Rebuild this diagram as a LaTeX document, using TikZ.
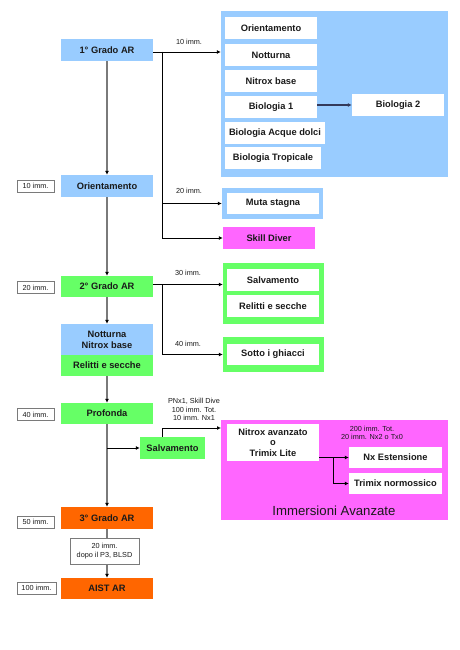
\documentclass[tikz,border=0pt]{standalone}
\usepackage{fontspec}
\setmainfont{Liberation Sans}
\usetikzlibrary{arrows.meta}
\definecolor{cblue}{HTML}{99CCFF}
\definecolor{cgreen}{HTML}{66FF66}
\definecolor{cmag}{HTML}{FF66FF}
\definecolor{corange}{HTML}{FF6600}
\definecolor{ctext}{HTML}{1A1A1A}
\definecolor{cline}{HTML}{7A7A7A}
\definecolor{cbio}{HTML}{33395A}
\tikzset{
  box/.style={rectangle, inner sep=0pt, minimum width=92pt, minimum height=22pt,
    font=\bfseries\fontsize{9.3}{11}\selectfont, align=center, text=ctext},
  wbox/.style={box, fill=white},
  lbl/.style={inner sep=0pt, font=\fontsize{7.3}{8.6}\selectfont, align=center, text=ctext},
  tagbox/.style={lbl, draw=cline, line width=0.9pt, minimum width=37pt, minimum height=12pt},
  container/.style={rectangle, inner sep=0pt},
  mainline/.style={draw=cline, line width=1.3pt},
  mainarrow/.style={mainline, -{Latex[length=4pt,width=4pt,color=black]}},
  side/.style={draw=black, line width=0.8pt, -{Latex[length=4pt,width=4pt]}},
  sideplain/.style={draw=black, line width=0.8pt},
}
\begin{document}
\begin{tikzpicture}[x=1pt,y=-1pt]
\useasboundingbox[fill=white] (0,0) rectangle (459,650);

% ---------- containers ----------
\node[container, fill=cblue, minimum width=227pt, minimum height=166pt] (bluec) at (334.5,94) {};
\node[container, fill=cblue, minimum width=101pt, minimum height=31pt] (mutac) at (272.5,203.5) {};
\node[container, fill=cgreen, minimum width=101pt, minimum height=61pt] (gf1) at (273.5,293.5) {};
\node[container, fill=cgreen, minimum width=101pt, minimum height=35pt] (gf2) at (273.5,354.5) {};
\node[container, fill=cmag, minimum width=227pt, minimum height=100pt] (mag) at (334.5,470) {};

% ---------- main column ----------
\node[box, fill=cblue] (g1) at (107,50) {1° Grado AR};
\node[box, fill=cblue] (ori) at (107,186) {Orientamento};
\node[box, fill=cgreen, minimum height=21pt] (g2) at (107,286.5) {2° Grado AR};
\node[box, fill=cblue, minimum height=31pt] (nn) at (107,339.5) {Notturna\\Nitrox base};
\node[box, fill=cgreen, minimum height=21pt] (rs) at (107,365.5) {Relitti e secche};
\node[box, fill=cgreen, minimum height=21pt] (prof) at (107,413.5) {Profonda};
\node[box, fill=corange] (g3) at (107,518) {3° Grado AR};
\node[box, fill=corange, minimum height=21pt] (aist) at (107,588.5) {AIST AR};
\node[lbl, draw=cline, line width=0.9pt, fill=white, minimum width=69pt, minimum height=26pt] (betw) at (104.5,551) {20 imm.\\dopo il P3, BLSD};

% ---------- left tags ----------
\node[tagbox] (t10) at (35.5,186) {10 imm.};
\node[tagbox] (t20) at (35.5,287.5) {20 imm.};
\node[tagbox] (t40) at (35.5,414.5) {40 imm.};
\node[tagbox] (t50) at (35.5,522) {50 imm.};
\node[tagbox, minimum width=39pt] (t100) at (36.5,588) {100 imm.};

% ---------- blue group ----------
\node[wbox] (o1) at (271,28) {Orientamento};
\node[wbox] (o2) at (271,55) {Notturna};
\node[wbox] (o3) at (271,81) {Nitrox base};
\node[wbox] (o4) at (271,107) {Biologia 1};
\node[wbox, minimum width=100pt] (o5) at (275,133) {Biologia Acque dolci};
\node[wbox, minimum width=96pt] (o6) at (273,158) {Biologia Tropicale};
\node[wbox] (bio2) at (398,105) {Biologia 2};
\node[wbox, minimum height=21pt] (muta) at (273,203.5) {Muta stagna};
\node[box, fill=cmag] (skill) at (269,238) {Skill Diver};

% ---------- green groups ----------
\node[wbox] (salv1) at (273,280) {Salvamento};
\node[wbox] (reli) at (273,306) {Relitti e secche};
\node[wbox, minimum height=21pt] (ghi) at (273,354.5) {Sotto i ghiacci};

% ---------- advanced ----------
\node[box, fill=cgreen, minimum width=65pt] (salv) at (172.5,448) {Salvamento};
\node[wbox, minimum height=37pt, font=\bfseries\fontsize{9.3}{10.2}\selectfont] (nitrox) at (273,442.5) {Nitrox avanzato\\o\\Trimix Lite};
\node[wbox, minimum width=93pt, minimum height=21pt] (nxe) at (395.5,457.5) {Nx Estensione};
\node[wbox, minimum width=93pt, minimum height=21pt] (trim) at (395.5,483.5) {Trimix normossico};
\node[inner sep=0pt, font=\fontsize{13.2}{14}\selectfont, text=ctext] (imm) at (334,511) {Immersioni Avanzate};

% ---------- labels ----------
\node[lbl] (l10) at (189,42) {10 imm.};
\node[lbl] (l20) at (189,191) {20 imm.};
\node[lbl] (l30) at (188,273) {30 imm.};
\node[lbl] (l40) at (188,344) {40 imm.};
\node[lbl] (lpn) at (194,409.5) {PNx1, Skill Dive\\100 imm. Tot.\\10 imm. Nx1};
\node[lbl] (l200) at (372,433) {200 imm. Tot.\\20 imm. Nx2 o Tx0};

% ---------- coordinates ----------
\coordinate (b1) at (162,52);
\coordinate (b2) at (162,284.5);
\coordinate (mi) at (221,428);
\coordinate (kx) at (333,457.5);

% ---------- main connectors ----------
\draw[mainarrow] (g1.south) -- (ori.north);
\draw[mainarrow] (ori.south) -- (g2.north);
\draw[mainarrow] (g2.south) -- (nn.north);
\draw[mainarrow] (rs.south) -- (prof.north);
\draw[mainarrow] (prof.south) -- (g3.north);
\draw[mainline] (g3.south) -- (betw.north -| g3.south);
\draw[mainarrow] (betw.south -| aist.north) -- (aist.north);

% ---------- side connectors ----------
\draw[side] (g1.east |- b1) -- (bluec.west |- b1);
\draw[side] (b1) |- (mutac.west);
\draw[side] (b1) |- (skill.west);
\draw[side, draw=cbio, line width=1.4pt] (o4.east |- bio2) -- (bio2.west);

\draw[side] (g2.east |- b2) -- (gf1.west |- b2);
\draw[side] (b2) |- (gf2.west);

\draw[side] (prof.south |- salv.west) -- (salv.west);
\draw[side] ([xshift=-10.5pt]salv.north) |- (mi);

\draw[side] (nitrox.east |- nxe.west) -- (nxe.west);
\draw[side] (kx) |- (trim.west);
\end{tikzpicture}
\end{document}
